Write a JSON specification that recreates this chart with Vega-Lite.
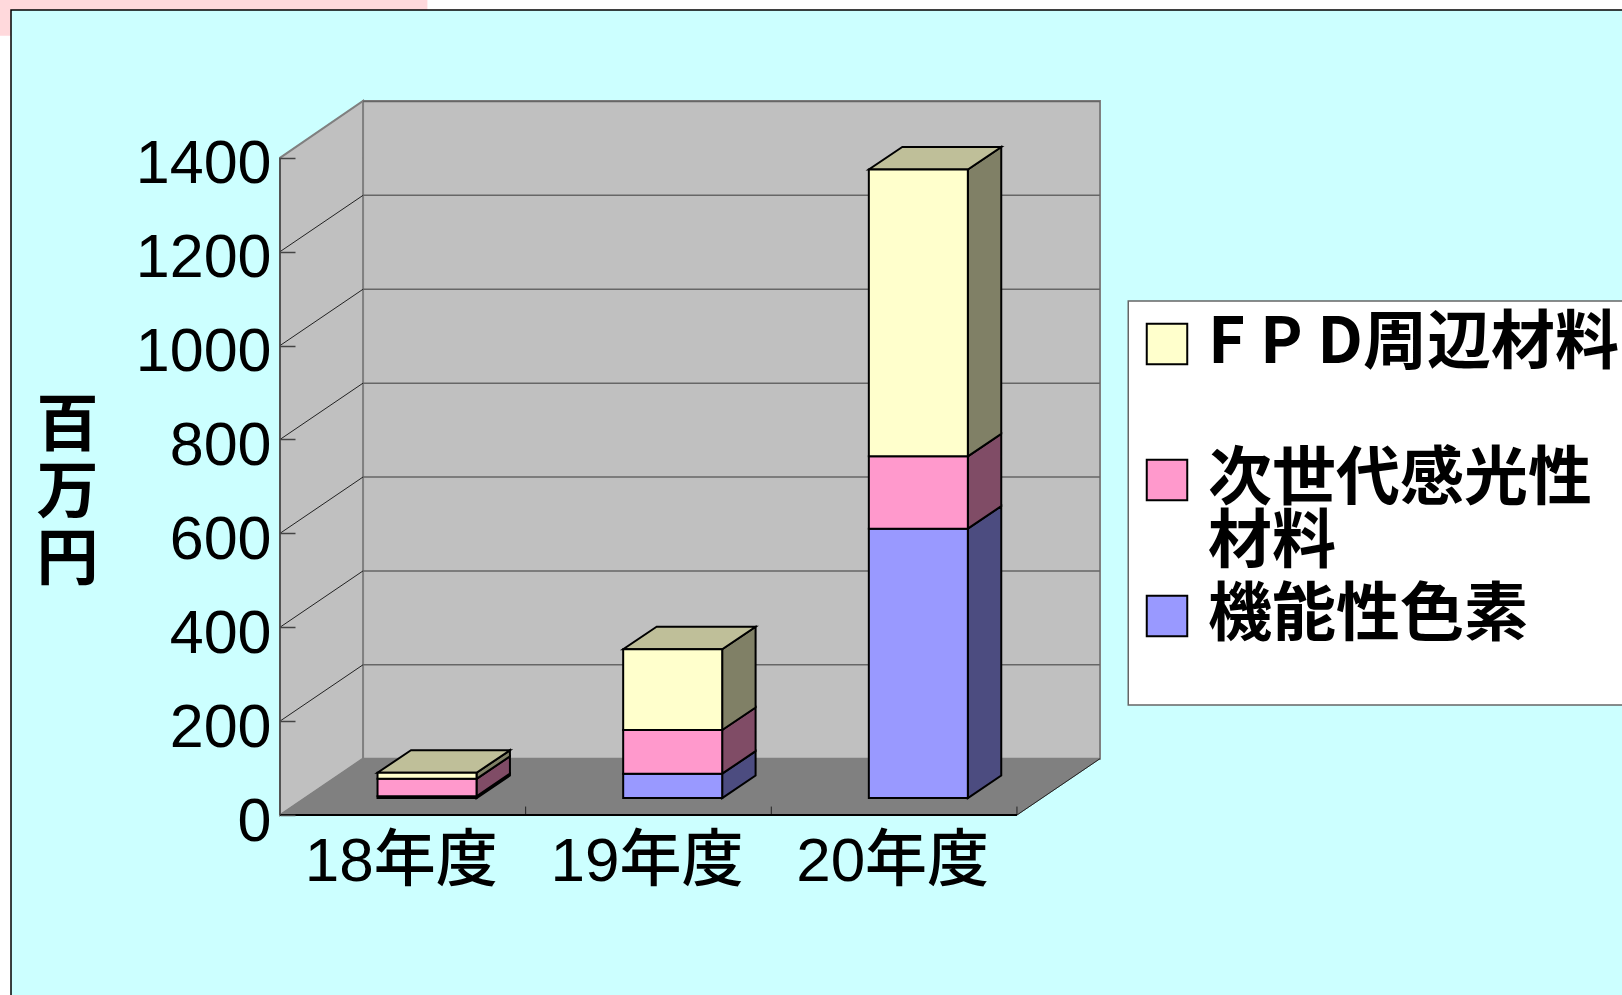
{
"$schema":"https://vega.github.io/schema/vega-lite/v6.json",
"width":820,"height":714,
"autosize":{"type":"none"},
"padding":{"left":280,"top":101,"right":522,"bottom":180},
"background":"#ffffff",
"view":{"stroke":null},
"config":{"style":{"guide-label":{"lineHeight":63}}},
"datasets":{
"sales":[
{"year":"18年度","series":"機能性色素","value":4},
{"year":"18年度","series":"次世代感光性材料","value":37},
{"year":"18年度","series":"ＦＰＤ周辺材料","value":13},
{"year":"19年度","series":"機能性色素","value":52},
{"year":"19年度","series":"次世代感光性材料","value":93},
{"year":"19年度","series":"ＦＰＤ周辺材料","value":172},
{"year":"20年度","series":"機能性色素","value":574},
{"year":"20年度","series":"次世代感光性材料","value":154},
{"year":"20年度","series":"ＦＰＤ周辺材料","value":611}
],
"ticks":[{"v":0},{"v":200},{"v":400},{"v":600},{"v":800},{"v":1000},{"v":1200},{"v":1400}],
"cats":[{"c":1},{"c":2},{"c":3}],
"one":[{"k":1}]
},
"layer":[
{"data":{"name":"one"},"mark":{"type":"rect","fill":"#FFD9DC"},
"encoding":{"x":{"datum":-1.14,"type":"quantitative","scale":{"domain":[0,3.338],"nice":false,"zero":false},
"axis":{"values":[0.5,1.5,2.5],"labelExpr":"['18年度','19年度','20年度'][floor(datum.value)]","ticks":false,"domain":false,"grid":false,"title":null,"labelFont":"Liberation Sans, Noto Sans CJK JP","labelFontSize":62,"labelFontWeight":500,"labelColor":"#000000","labelPadding":16,"labelOffset":-2,"labelLimit":400,"zindex":1,"labelFlush":false,"labelOverlap":false}},"x2":{"datum":0.6},
"y":{"datum":1660,"type":"quantitative","scale":{"domain":[0,1521],"nice":false,"zero":false},
"axis":{"values":[0,200,400,600,800,1000,1200,1400],"format":"d","domain":false,"grid":false,"tickSize":-15,"tickColor":"#444444","tickWidth":1.5,"labelFont":"Liberation Sans","labelFontSize":61,"labelColor":"#000000","labelPadding":24,"labelOffset":7,"labelFlush":false,"labelOverlap":false,"zindex":1,
"title":["百","万","円"],"titleAngle":0,"titleFont":"Noto Sans CJK JP","titleFontSize":62,"titleFontWeight":"bold","titleColor":"#000000","titleX":-213,"titleY":325,"titleLineHeight":67,"titleBaseline":"middle","titleAlign":"center"}},"y2":{"datum":1740}}},
{"data":{"name":"one"},"mark":{"type":"rect","fill":"#CCFFFF","stroke":"#000000","strokeWidth":1.5},
"encoding":{"x":{"datum":-1.095,"type":"quantitative","scale":{"domain":[0,3.338],"nice":false,"zero":false}},"x2":{"datum":5.6},
"y":{"datum":-400,"type":"quantitative","scale":{"domain":[0,1521],"nice":false,"zero":false}},"y2":{"datum":1715}}},
{"data":{"name":"one"},"mark":{"type":"rect","fill":"#FFFFFF","stroke":"#666666","strokeWidth":1.5},
"encoding":{"x":{"datum":3.453,"type":"quantitative","scale":{"domain":[0,3.338],"nice":false,"zero":false}},"x2":{"datum":5.7},
"y":{"datum":234.3,"type":"quantitative","scale":{"domain":[0,1521],"nice":false,"zero":false}},"y2":{"datum":1094.8}}},
{"data":{"name":"one"},"mark":{"type":"rect","fill":"#C0C0C0","stroke":"#808080","strokeWidth":2},
"encoding":{"x":{"datum":0.338,"type":"quantitative","scale":{"domain":[0,3.338],"nice":false,"zero":false}},"x2":{"datum":3.338},
"y":{"datum":120,"type":"quantitative","scale":{"domain":[0,1521],"nice":false,"zero":false}},"y2":{"datum":1521}}},
{"data":{"name":"one"},
"transform":[{"calculate":"[0,1]","as":"depth"},{"flatten":["depth"]},{"calculate":"datum.depth*0.338","as":"wx"},{"calculate":"datum.depth*120","as":"wy0"},{"calculate":"1400+datum.depth*121","as":"wy1"}],
"mark":{"type":"area","fill":"#C0C0C0","stroke":"#808080","strokeWidth":2},
"encoding":{"x":{"field":"wx","type":"quantitative","scale":{"domain":[0,3.338],"nice":false,"zero":false}},
"y":{"field":"wy0","type":"quantitative","scale":{"domain":[0,1521],"nice":false,"zero":false}},"y2":{"field":"wy1"}}},
{"data":{"name":"one"},
"transform":[{"calculate":"[0,1]","as":"depth"},{"flatten":["depth"]},{"calculate":"datum.depth*0.338","as":"fx0"},{"calculate":"3+datum.depth*0.338","as":"fx1"},{"calculate":"datum.depth*120","as":"fy"}],
"mark":{"type":"area","orient":"horizontal","fill":"#808080","stroke":"#808080","strokeWidth":1},
"encoding":{"x":{"field":"fx0","type":"quantitative","scale":{"domain":[0,3.338],"nice":false,"zero":false}},"x2":{"field":"fx1"},
"y":{"field":"fy","type":"quantitative","scale":{"domain":[0,1521],"nice":false,"zero":false}}}},
{"data":{"name":"ticks"},"transform":[{"filter":"datum.v>0"},{"calculate":"datum.v+120","as":"gy"}],
"mark":{"type":"rule","stroke":"#666666","strokeWidth":1.5},
"encoding":{"x":{"datum":0.338,"type":"quantitative","scale":{"domain":[0,3.338],"nice":false,"zero":false}},"x2":{"datum":3.338},
"y":{"field":"gy","type":"quantitative","scale":{"domain":[0,1521],"nice":false,"zero":false}}}},
{"data":{"name":"ticks"},"transform":[{"filter":"datum.v>0 && datum.v<1400"},{"calculate":"datum.v+120","as":"gy"}],
"mark":{"type":"rule","stroke":"#222222","strokeWidth":1},
"encoding":{"x":{"datum":0,"type":"quantitative","scale":{"domain":[0,3.338],"nice":false,"zero":false}},"x2":{"datum":0.338},
"y":{"field":"v","type":"quantitative","scale":{"domain":[0,1521],"nice":false,"zero":false}},"y2":{"field":"gy"}}},
{"data":{"name":"cats"},"mark":{"type":"rule","stroke":"#222222","strokeWidth":1},
"encoding":{"x":{"field":"c","type":"quantitative","scale":{"domain":[0,3.338],"nice":false,"zero":false}},
"y":{"datum":0,"type":"quantitative","scale":{"domain":[0,1521],"nice":false,"zero":false}},
"y2":{"datum":18}}},
{"data":{"name":"one"},"mark":{"type":"rule","stroke":"#000000","strokeWidth":2},
"encoding":{"x":{"datum":0,"type":"quantitative","scale":{"domain":[0,3.338],"nice":false,"zero":false}},"x2":{"datum":3},
"y":{"datum":0,"type":"quantitative","scale":{"domain":[0,1521],"nice":false,"zero":false}}}},
{"data":{"name":"one"},"mark":{"type":"rule","stroke":"#222222","strokeWidth":1},
"encoding":{"x":{"datum":3,"type":"quantitative","scale":{"domain":[0,3.338],"nice":false,"zero":false}},"x2":{"datum":3.338},
"y":{"datum":0,"type":"quantitative","scale":{"domain":[0,1521],"nice":false,"zero":false}},"y2":{"datum":120}}},
{"data":{"name":"one"},"mark":{"type":"rule","stroke":"#444444","strokeWidth":1.5},
"encoding":{"x":{"datum":0,"type":"quantitative","scale":{"domain":[0,3.338],"nice":false,"zero":false}},
"y":{"datum":0,"type":"quantitative","scale":{"domain":[0,1521],"nice":false,"zero":false}},"y2":{"datum":1400}}},
{"data":{"name":"sales"},
"transform":[{"stack":"value","groupby":["year"],"sort":[{"field":"series","order":"ascending"}],"as":["v0","v1"]},
{"calculate":"indexof(['18年度','19年度','20年度'],datum.year)","as":"i"},
{"calculate":"[0,1]","as":"depth"},{"flatten":["depth"]},
{"calculate":"datum.i+0.8+datum.depth*0.136","as":"sx"},
{"calculate":"datum.v0+36+datum.depth*48","as":"sy0"},
{"calculate":"datum.v1+36+datum.depth*48","as":"sy1"}],
"mark":{"type":"area","stroke":"#000000","strokeWidth":2},
"encoding":{"x":{"field":"sx","type":"quantitative","scale":{"domain":[0,3.338],"nice":false,"zero":false}},
"y":{"field":"sy0","type":"quantitative","scale":{"domain":[0,1521],"nice":false,"zero":false}},"y2":{"field":"sy1"},
"detail":{"field":"year"},
"fill":{"field":"series","type":"nominal","scale":{"domain":["ＦＰＤ周辺材料","次世代感光性材料","機能性色素"],"range":["#808066","#804C66","#4C4C80"]},"legend":null}}},
{"data":{"name":"sales"},
"transform":[{"stack":"value","groupby":["year"],"sort":[{"field":"series","order":"ascending"}],"as":["v0","v1"]},
{"filter":"datum.series==='ＦＰＤ周辺材料'"},
{"calculate":"indexof(['18年度','19年度','20年度'],datum.year)","as":"i"},
{"calculate":"[0,1]","as":"depth"},{"flatten":["depth"]},
{"calculate":"datum.i+0.397+datum.depth*0.136","as":"tx0"},
{"calculate":"datum.i+0.8+datum.depth*0.136","as":"tx1"},
{"calculate":"datum.v1+36+datum.depth*48","as":"ty"}],
"mark":{"type":"area","orient":"horizontal","fill":"#BFBF99","stroke":"#000000","strokeWidth":2},
"encoding":{"x":{"field":"tx0","type":"quantitative","scale":{"domain":[0,3.338],"nice":false,"zero":false}},"x2":{"field":"tx1"},
"y":{"field":"ty","type":"quantitative","scale":{"domain":[0,1521],"nice":false,"zero":false}},
"detail":{"field":"year"}}},
{"data":{"name":"sales"},
"transform":[{"stack":"value","groupby":["year"],"sort":[{"field":"series","order":"ascending"}],"as":["v0","v1"]},
{"calculate":"indexof(['18年度','19年度','20年度'],datum.year)","as":"i"},
{"calculate":"datum.i+0.397","as":"bx0"},{"calculate":"datum.i+0.8","as":"bx1"},
{"calculate":"datum.v0+36","as":"by0"},{"calculate":"datum.v1+36","as":"by1"}],
"mark":{"type":"rect","stroke":"#000000","strokeWidth":2},
"encoding":{"x":{"field":"bx0","type":"quantitative","scale":{"domain":[0,3.338],"nice":false,"zero":false}},"x2":{"field":"bx1"},
"y":{"field":"by0","type":"quantitative","scale":{"domain":[0,1521],"nice":false,"zero":false}},"y2":{"field":"by1"},
"fill":{"field":"series","type":"nominal","scale":{"domain":["ＦＰＤ周辺材料","次世代感光性材料","機能性色素"],"range":["#FFFFCC","#FF99CC","#9999FF"]},
"legend":{"orient":"none","legendX":846,"legendY":202,"title":null,"padding":9,"symbolType":"square","symbolSize":1640,"symbolStrokeColor":"#000000","symbolStrokeWidth":2,"symbolOpacity":1,
"labelFont":"Noto Sans CJK JP","labelFontSize":64,"labelFontWeight":"bold","labelColor":"#000000","labelLimit":600,"labelOffset":9,"gridAlign":"all","rowPadding":9,"labelBaseline":"middle",
"labelExpr":"datum.label==='次世代感光性材料'?['次世代感光性','材料']:replace(datum.label,'ＦＰＤ','F P D')"}}}}
],
"resolve":{"scale":{"fill":"independent"}}
}
